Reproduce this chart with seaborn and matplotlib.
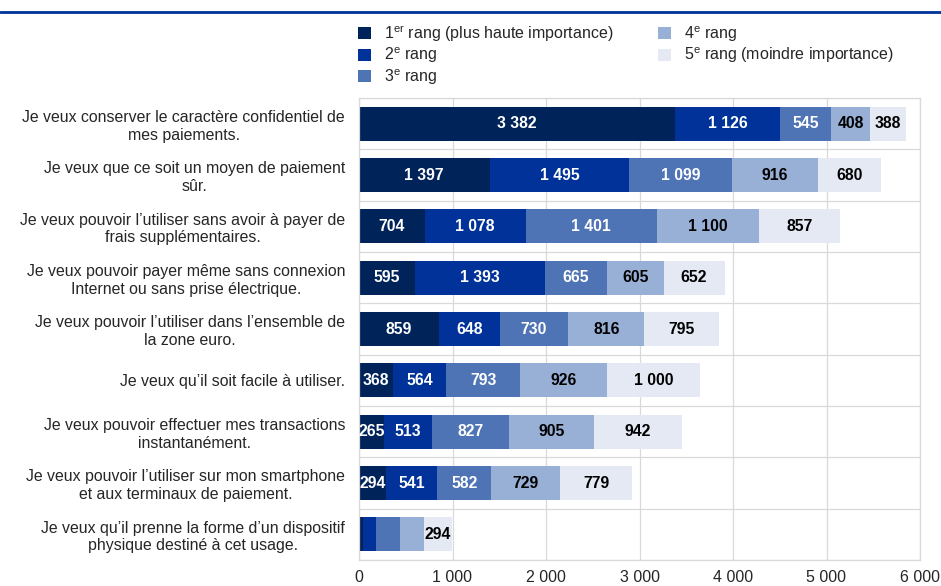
"""
Stacked horizontal bars: importance ranking of payment features
"""
import matplotlib
matplotlib.use("Agg")
import matplotlib.pyplot as plt
from matplotlib.lines import Line2D
from matplotlib.patches import Patch
import seaborn as sns
import numpy as np
import pandas as pd


categories = [
    "Je veux conserver le caractère confidentiel de\nmes paiements.",
    "Je veux que ce soit un moyen de paiement\nsûr.",
    "Je veux pouvoir l’utiliser sans avoir à payer de\nfrais supplémentaires.",
    "Je veux pouvoir payer même sans connexion\nInternet ou sans prise électrique.",
    "Je veux pouvoir l’utiliser dans l’ensemble de\nla zone euro.",
    "Je veux qu’il soit facile à utiliser.",
    "Je veux pouvoir effectuer mes transactions\ninstantanément.",
    "Je veux pouvoir l’utiliser sur mon smartphone\net aux terminaux de paiement.",
    "Je veux qu’il prenne la forme d’un dispositif\nphysique destiné à cet usage.",
]
rank1 = [3382, 1397, 704, 595, 859, 368, 265, 294, 46]
rank2 = [1126, 1495, 1078, 1393, 648, 564, 513, 541, 136]
rank3 = [545, 1099, 1401, 665, 730, 793, 827, 582, 257]
rank4 = [408, 916, 1100, 605, 816, 926, 905, 729, 259]
rank5 = [388, 680, 857, 652, 795, 1000, 942, 779, 294]

series_names = [
    "1$^{\\mathrm{er}}$ rang (plus haute importance)",
    "2$^{\\mathrm{e}}$ rang",
    "3$^{\\mathrm{e}}$ rang",
    "4$^{\\mathrm{e}}$ rang",
    "5$^{\\mathrm{e}}$ rang (moindre importance)",
]
x_ticks = [0, 1000, 2000, 3000, 4000, 5000, 6000]

colors = ["#00235a", "#003299", "#4f74b5", "#98afd6", "#e4e9f4"]
label_colors = ["white", "white", "white", "black", "black"]

sns.set_style("white")
plt.rcParams['font.family'] = ['Liberation Sans', 'DejaVu Sans']
plt.rcParams['mathtext.fontset'] = 'custom'
plt.rcParams['mathtext.rm'] = 'Liberation Sans'
plt.rcParams['mathtext.it'] = 'Liberation Sans:italic'
plt.rcParams['mathtext.bf'] = 'Liberation Sans:bold'


def fmt(v):
    return f"{v:,.0f}".replace(",", " ")


values = np.array([rank1, rank2, rank3, rank4, rank5])
cum = values.cumsum(axis=0)
df = pd.DataFrame({"categorie": categories})
for i in range(5):
    df[f"cum{i}"] = cum[i]

fig = plt.figure(figsize=(9.41, 5.86), dpi=100)
ax = fig.add_axes([359 / 941, 1 - 560 / 586, 561 / 941, 462 / 586])

# draw cumulative bars from the longest to the shortest so they stack
for i in range(4, -1, -1):
    sns.barplot(data=df, x=f"cum{i}", y="categorie", color=colors[i],
                orient="h", width=0.66, linewidth=0, saturation=1, ax=ax)

# segment labels
for i in range(5):
    for j in range(len(categories)):
        v = values[i, j]
        if v < 262:
            continue
        center = cum[i, j] - v / 2
        ax.text(center, j, fmt(v), ha="center", va="center",
                fontsize=11.3, fontweight="bold", color=label_colors[i])

ax.set_xlim(0, 6000)
ax.set_ylim(len(categories) - 0.5, -0.5)
ax.set_xticks(x_ticks)
ax.set_xticklabels([fmt(t) for t in x_ticks], fontsize=11.5)
ax.set_yticks(range(len(categories)))
ax.set_yticklabels(categories, fontsize=11.4)
for t in ax.get_yticklabels():
    t.set_multialignment("center")
ax.set_yticks(np.arange(-0.5, len(categories), 1), minor=True)
ax.set_xlabel("")
ax.set_ylabel("")
ax.tick_params(axis="both", which="both", length=0)
ax.tick_params(axis="y", pad=10)
ax.tick_params(axis="x", pad=7)
ax.grid(axis="x", which="major", color="#d9d9d9", linewidth=0.9)
ax.grid(axis="y", which="minor", color="#d9d9d9", linewidth=0.9)
ax.set_axisbelow(True)
for s in ax.spines.values():
    s.set_color("#d9d9d9")
    s.set_linewidth(0.9)

handles = [Patch(facecolor=c, edgecolor="none") for c in colors]
fig.legend(handles, series_names, loc="upper left",
           bbox_to_anchor=(352 / 941, 1 - 17 / 586), ncol=2, frameon=False,
           fontsize=11.5, handlelength=0.8, handleheight=0.8,
           handletextpad=0.8, labelspacing=0.12, columnspacing=2.8,
           borderaxespad=0)

fig.add_artist(Line2D([0, 1], [1 - 12 / 586] * 2, color="#003299",
                      linewidth=2, transform=fig.transFigure))

plt.savefig("out.png", dpi=100)
